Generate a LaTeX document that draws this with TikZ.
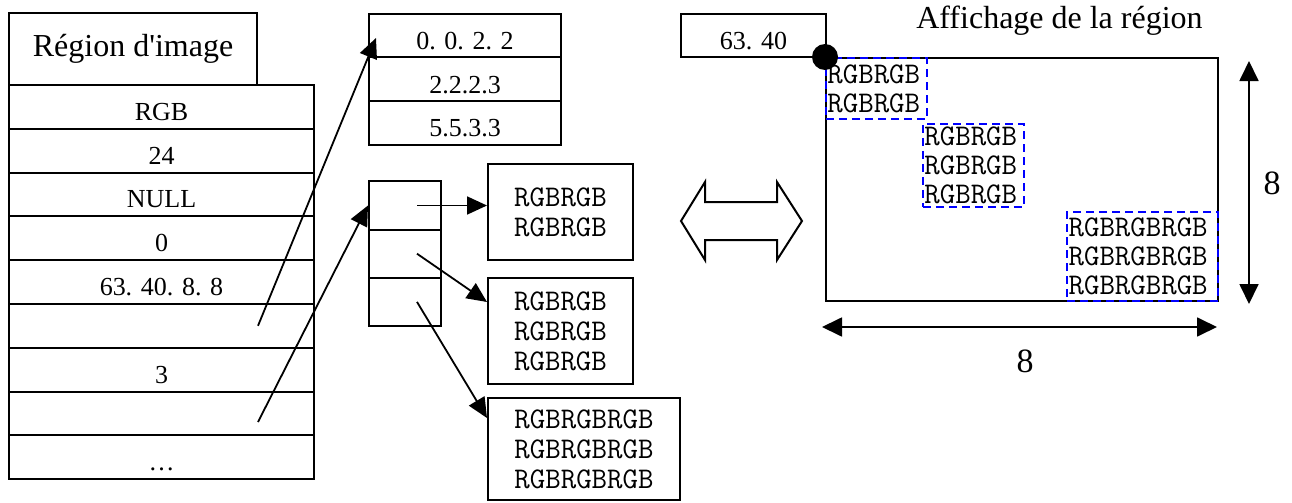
\documentclass[tikz,border=0pt]{standalone}
\usepackage{fontspec}
\setmainfont{Liberation Serif}
\usetikzlibrary{arrows.meta, positioning, calc}
\definecolor{zoneblue}{RGB}{0, 0, 255}

\begin{document}
\begin{tikzpicture}[
  x=0.5pt, y=-0.5pt,
  every node/.style={font=\fontsize{13}{15}\selectfont, inner sep=0pt},
  cell/.style={
    draw, line width=1pt, minimum width=152.5pt, minimum height=21.9pt,
    text height=13.5pt, text depth=0pt
  },
  tab/.style={
    draw, line width=1pt, minimum width=96pt, minimum height=21.8pt,
    text height=14pt, text depth=0pt
  },
  ptr/.style={draw, line width=1pt, minimum width=36pt, minimum height=24.1pt},
  pix/.style={
    draw, line width=1pt, align=center,
    font=\ttfamily\fontsize{15}{15}\selectfont
  },
  zone/.style={
    draw=zoneblue, line width=0.9pt, dash pattern=on 4pt off 2.5pt,
    align=left, inner xsep=0.75pt,
    font=\ttfamily\fontsize{15}{14.5}\selectfont
  },
  arrow/.style={-{Triangle[length=10pt, width=9pt]}, line width=0.9pt},
  dim/.style={{Triangle[length=10pt, width=9.5pt]}-{Triangle[length=10pt, width=9.5pt]}, line width=0.9pt},
  label/.style={font=\fontsize{17}{20}\selectfont}
]
  \useasboundingbox (0,0) rectangle (1292,503);

  % Structure de la région (colonne gauche)
  \node[draw, line width=1pt, minimum width=124pt, minimum height=36pt,
        font=\fontsize{16}{19}\selectfont] (titre) at (133,49) {Région d\textquotesingle image};
  \foreach \t [count=\i] in {RGB, 24, NULL, 0, {63. 40. 8. 8}, {}, 3, {}, …}
    \node[cell] (r\i) at (161.5, 63+43.8*\i) {\t};

  % Table des rectangles
  \foreach \t [count=\i] in {0. 0. 2. 2, 2.2.2.3, 5.5.3.3}
    \node[tab] (t\i) at (465, -8.17+43.67*\i) {\t};

  % Table des pointeurs et blocs de pixels
  \foreach \i in {1,2,3}
    \node[ptr] (q\i) at (405, 157.3+48.2*\i) {};
  \node[pix, minimum width=72.5pt, minimum height=48pt] (b1) at (560.5,212) {RGBRGB\\RGBRGB};
  \node[pix, minimum width=72.5pt, minimum height=53pt] (b2) at (560.5,331) {RGBRGB\\RGBRGB\\RGBRGB};
  \node[pix, minimum width=96pt, minimum height=51pt] (b3) at (584,449) {RGBRGBRGB\\RGBRGBRGB\\RGBRGBRGB};

  % Pointeurs
  \coordinate (s1) at ([xshift=-28.5pt]r6.east);
  \coordinate (s2) at ([xshift=-28.5pt, yshift=-4.3pt]r8.east);
  \draw[arrow] (s1) -- ([xshift=4pt, yshift=-1.25pt]t1.west);
  \draw[arrow] (s2) -- (q1.west);
  \foreach \i in {1,2,3}
    \coordinate (c\i) at ([xshift=6pt]q\i.center);
  \draw[arrow] (c1) -- (c1 -| b1.west);
  \draw[arrow] (c2) -- ([yshift=-12.5pt]b2.north west);
  \draw[arrow] (c3) -- ([yshift=-10.5pt]b3.north west);

  % Equivalence
  \draw[line width=1pt, line join=miter]
    (681,221) -- (705,182) -- (705,202) -- (777,202) -- (777,182) -- (802,221)
    -- (777,260) -- (777,240) -- (705,240) -- (705,260) -- cycle;

  % Affichage
  \node[font=\fontsize{16}{19}\selectfont] (titreaff) at (1059.5,20.6) {Affichage de la région};
  \node[tab, minimum width=72.5pt, minimum height=21.5pt, text height=13.5pt] (orig) at (753.5,35.5) {63. 40};
  \node[draw, line width=1pt, minimum width=196pt, minimum height=121.5pt] (ecran) at (1022,179.5) {};
  \node[zone, text width=49pt, minimum height=30.5pt, anchor=north west] (zA) at (ecran.north west) {RGBRGB\\RGBRGB};
  \node[zone, text width=49pt, minimum height=41.5pt, anchor=north west] (zB) at (922,123) {RGBRGB\\RGBRGB\\RGBRGB};
  \node[zone, text width=74pt, minimum height=44.5pt, anchor=south east] (zC) at (ecran.south east) {RGBRGBRGB\\RGBRGBRGB\\RGBRGBRGB};
  \node[circle, fill, minimum size=13pt] (coin) at (ecran.north west) {};

  % Dimensions
  \coordinate (v1) at ([xshift=15pt, yshift=-2pt]ecran.north east);
  \coordinate (v2) at ([xshift=15pt, yshift=-1pt]ecran.south east);
  \draw[dim] (v1) -- (v2);
  \node[label] (hauteur) at (1272,183) {8};
  \coordinate (h1) at ([xshift=-1.5pt, yshift=-12.5pt]ecran.south west);
  \coordinate (h2) at ([xshift=-1pt, yshift=-12.5pt]ecran.south east);
  \draw[dim] (h1) -- (h2);
  \node[label] (largeur) at (1025,361) {8};

\end{tikzpicture}
\end{document}
